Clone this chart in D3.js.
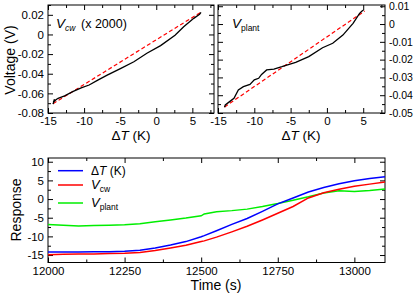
<!DOCTYPE html>
<html>
<head>
<meta charset="utf-8">
<script src="https://cdn.jsdelivr.net/npm/d3@7"></script>
<style>
  body { margin: 0; background: #fff; }
  svg { font-family: "Liberation Sans", Arial, sans-serif; }
  .tick text { font-size: 11.5px; fill: #000; }
  .tick line { stroke: #000; }
  .right-labels .tick text { font-size: 10.5px; }
</style>
</head>
<body>
<svg width="415" height="293"></svg>
<script>
// top left: V_cw (x 2000) vs dT
var cwDT = [-14.3, -14.1, -14.25, -13.9, -13.6, -12.7, -11.5, -10.4, -9.3, -8.1, -6.8, -4.9, -3.1, -1.3, 0.6, 2.6, 3.8, 5.2, 6.0, 6.2];
var cwV  = [-0.071, -0.066, -0.069, -0.0665, -0.065, -0.0625, -0.058, -0.0545, -0.0515, -0.0465, -0.0415, -0.0345, -0.0278, -0.0192, -0.0114, -0.0008, 0.0079, 0.0164, 0.0205, 0.0225];
var cwFitDT = [-14.3, 6.3];
var cwFitV = [-0.0705, 0.0232];

// top right: V_plant vs dT
var plDT = [-14.1, -14.0, -13.4, -12.8, -12.2, -11.5, -10.6, -10.0, -9.4, -9.0, -8.3, -7.3, -6.2, -4.3, -2.5, -0.6, 0.8, 2.2, 3.6, 4.5, 4.8, 5.05];
var plV  = [-0.0468, -0.0455, -0.0436, -0.0417, -0.037, -0.0352, -0.0339, -0.0314, -0.0305, -0.0283, -0.0258, -0.0253, -0.024, -0.0215, -0.0183, -0.0133, -0.0108, -0.0062, 0.0004, 0.006, 0.0072, 0.0079];
var plFitDT = [-14.1, 5.2];
var plFitV = [-0.0466, 0.0073];

// bottom: time series
var time = [12000, 12050, 12100, 12150, 12200, 12250, 12300, 12350, 12400, 12450, 12500, 12510, 12550, 12600, 12650, 12700, 12750, 12800, 12850, 12900, 12950, 13000, 13050, 13100];
var dT     = [-14.2, -14.2, -14.2, -14.1, -14.1, -14.0, -13.7, -13.1, -12.3, -11.4, -10.1, -9.8, -8.5, -6.8, -5.2, -3.3, -1.3, 0.3, 1.9, 3.1, 4.1, 4.9, 5.5, 6.0];
var vcw    = [-14.9, -14.8, -14.7, -14.7, -14.6, -14.5, -14.3, -13.8, -13.1, -12.4, -11.4, -11.2, -10.2, -8.8, -7.3, -5.6, -3.8, -2.0, 0.3, 1.7, 2.6, 3.4, 4.0, 4.6];
var vplant = [-6.8, -7.0, -7.2, -7.1, -7.0, -6.9, -6.6, -6.1, -5.6, -5.1, -4.5, -4.0, -3.4, -3.1, -2.7, -2.0, -1.2, -0.3, 0.6, 1.6, 2.2, 2.0, 2.3, 2.7];

var legendNames = [["\u0394", "T", " (K)"], ["V", "cw"], ["V", "plant"]];
var colors = ["#0000ff", "#ff0000", "#00ee00"];

var svg = d3.select("svg");

function fmt(d) { return String(Math.round(d * 1000) / 1000); }

function frame(x, y, o) {
  var x0 = x.range()[0], x1 = x.range()[1], y0 = y.range()[1], y1 = y.range()[0];
  var g = svg.append("g");
  // bottom
  g.append("g").attr("transform", "translate(0," + y1 + ")")
    .call(d3.axisBottom(x).tickValues(o.xMinor).tickSize(-3).tickFormat(""));
  g.append("g").attr("transform", "translate(0," + y1 + ")")
    .call(d3.axisBottom(x).tickValues(o.xMajor).tickSize(-5).tickPadding(4).tickFormat(fmt));
  // top
  g.append("g").attr("transform", "translate(0," + y0 + ")")
    .call(d3.axisTop(x).tickValues(o.xMinor).tickSize(-3).tickFormat(""));
  g.append("g").attr("transform", "translate(0," + y0 + ")")
    .call(d3.axisTop(x).tickValues(o.xMajor).tickSize(-5).tickFormat(""));
  // left
  g.append("g").attr("transform", "translate(" + x0 + ",0)")
    .call(d3.axisLeft(y).tickValues(o.yMinor).tickSize(-3).tickFormat(""));
  g.append("g").attr("transform", "translate(" + x0 + ",0)")
    .call(d3.axisLeft(y).tickValues(o.yMajor).tickSize(-5).tickPadding(4)
      .tickFormat(o.labelSide == "left" ? fmt : ""));
  // right
  g.append("g").attr("transform", "translate(" + x1 + ",0)")
    .call(d3.axisRight(y).tickValues(o.yMinor).tickSize(-3).tickFormat(""));
  g.append("g").attr("class", "right-labels").attr("transform", "translate(" + x1 + ",0)")
    .call(d3.axisRight(y).tickValues(o.yMajor).tickSize(-5).tickPadding(4)
      .tickFormat(o.labelSide == "right" ? fmt : ""));
  g.selectAll(".domain").remove();
  g.append("rect").attr("x", x0).attr("y", y0).attr("width", x1 - x0).attr("height", y1 - y0)
    .attr("fill", "none").attr("stroke", "#000").attr("stroke-width", 1);
  return g;
}

function xyLine(x, y) {
  return d3.line().x(function(d) { return x(d[0]); }).y(function(d) { return y(d[1]); });
}

// ---- top left
var x1 = d3.scaleLinear().domain([-15, 8]).range([48, 214]);
var y1 = d3.scaleLinear().domain([-0.08, 0.03]).range([113, 5]);
frame(x1, y1, {
  xMajor: [-15, -10, -5, 0, 5], xMinor: d3.range(-12.5, 8, 5),
  yMajor: d3.range(-0.08, 0.021, 0.02), yMinor: d3.range(-0.07, 0.031, 0.02),
  labelSide: "left"
});
svg.append("path").attr("d", xyLine(x1, y1)(d3.zip(cwFitDT, cwFitV)))
  .attr("fill", "none").attr("stroke", "#ff0000").attr("stroke-width", 1.2).attr("stroke-dasharray", "4,2.5");
svg.append("path").attr("d", xyLine(x1, y1)(d3.zip(cwDT, cwV)))
  .attr("fill", "none").attr("stroke", "#000").attr("stroke-width", 1.3);

// ---- top right
var x2 = d3.scaleLinear().domain([-15, 8]).range([218, 385]);
var y2 = d3.scaleLinear().domain([-0.05, 0.0107]).range([113, 5]);
frame(x2, y2, {
  xMajor: [-15, -10, -5, 0, 5], xMinor: d3.range(-12.5, 8, 5),
  yMajor: d3.range(-0.05, 0.011, 0.01), yMinor: d3.range(-0.045, 0.011, 0.01),
  labelSide: "right"
});
svg.append("path").attr("d", xyLine(x2, y2)(d3.zip(plFitDT, plFitV)))
  .attr("fill", "none").attr("stroke", "#ff0000").attr("stroke-width", 1.2).attr("stroke-dasharray", "4,2.5");
svg.append("path").attr("d", xyLine(x2, y2)(d3.zip(plDT, plV)))
  .attr("fill", "none").attr("stroke", "#000").attr("stroke-width", 1.3);

// ---- bottom
var x3 = d3.scaleLinear().domain([12000, 13100]).range([48, 385]);
var y3 = d3.scaleLinear().domain([-17, 11]).range([262.5, 158]);
frame(x3, y3, {
  xMajor: [12000, 12250, 12500, 12750, 13000], xMinor: d3.range(12125, 13100, 250),
  yMajor: [-15, -10, -5, 0, 5, 10], yMinor: d3.range(-12.5, 11, 5),
  labelSide: "left"
});
[vplant, vcw, dT].forEach(function(s, i) {
  var c = [colors[2], colors[1], colors[0]][i];
  svg.append("path").attr("d", xyLine(x3, y3)(d3.zip(time, s)))
    .attr("fill", "none").attr("stroke", c).attr("stroke-width", 1.5);
});

// legend
var ly = [170.7, 185, 203];
legendNames.forEach(function(n, i) {
  svg.append("line").attr("x1", 58).attr("x2", 83).attr("y1", ly[i]).attr("y2", ly[i])
    .attr("stroke", colors[i]).attr("stroke-width", 1.5);
  var t = svg.append("text").attr("x", 91).attr("y", ly[i] + 4).attr("font-size", 12);
  if (i == 0) {
    t.append("tspan").text(n[0]);
    t.append("tspan").attr("font-style", "italic").text(n[1]);
    t.append("tspan").text(n[2]);
  } else {
    t.append("tspan").attr("font-style", "italic").attr("font-size", 13).text(n[0]);
    t.append("tspan").attr("font-size", 8.5).attr("dy", 3).text(n[1]);
  }
});

// panel labels
var l1 = svg.append("text").attr("x", 56).attr("y", 28).attr("font-size", 13.5);
l1.append("tspan").attr("font-style", "italic").text("V");
l1.append("tspan").attr("font-size", 8.5).attr("dy", 3).attr("font-style", "italic").text("cw");
svg.append("text").attr("x", 81).attr("y", 28).attr("font-size", 12.5).text("(x 2000)");
var l2 = svg.append("text").attr("x", 232).attr("y", 28).attr("font-size", 13.5);
l2.append("tspan").attr("font-style", "italic").text("V");
l2.append("tspan").attr("font-size", 8.5).attr("dy", 3).text("plant");

// axis titles
function dtTitle(cx) {
  var t = svg.append("text").attr("x", cx).attr("y", 140).attr("font-size", 13.5).attr("text-anchor", "middle");
  t.append("tspan").text("\u0394");
  t.append("tspan").attr("font-style", "italic").text("T");
  t.append("tspan").text(" (K)");
}
dtTitle(131);
dtTitle(301);
svg.append("text").attr("transform", "translate(15,60) rotate(-90)").attr("text-anchor", "middle")
  .attr("font-size", 14).text("Voltage (V)");
svg.append("text").attr("transform", "translate(21,210) rotate(-90)").attr("text-anchor", "middle")
  .attr("font-size", 14).text("Response");
svg.append("text").attr("x", 216).attr("y", 290).attr("text-anchor", "middle")
  .attr("font-size", 14).text("Time (s)");
</script>
</body>
</html>
